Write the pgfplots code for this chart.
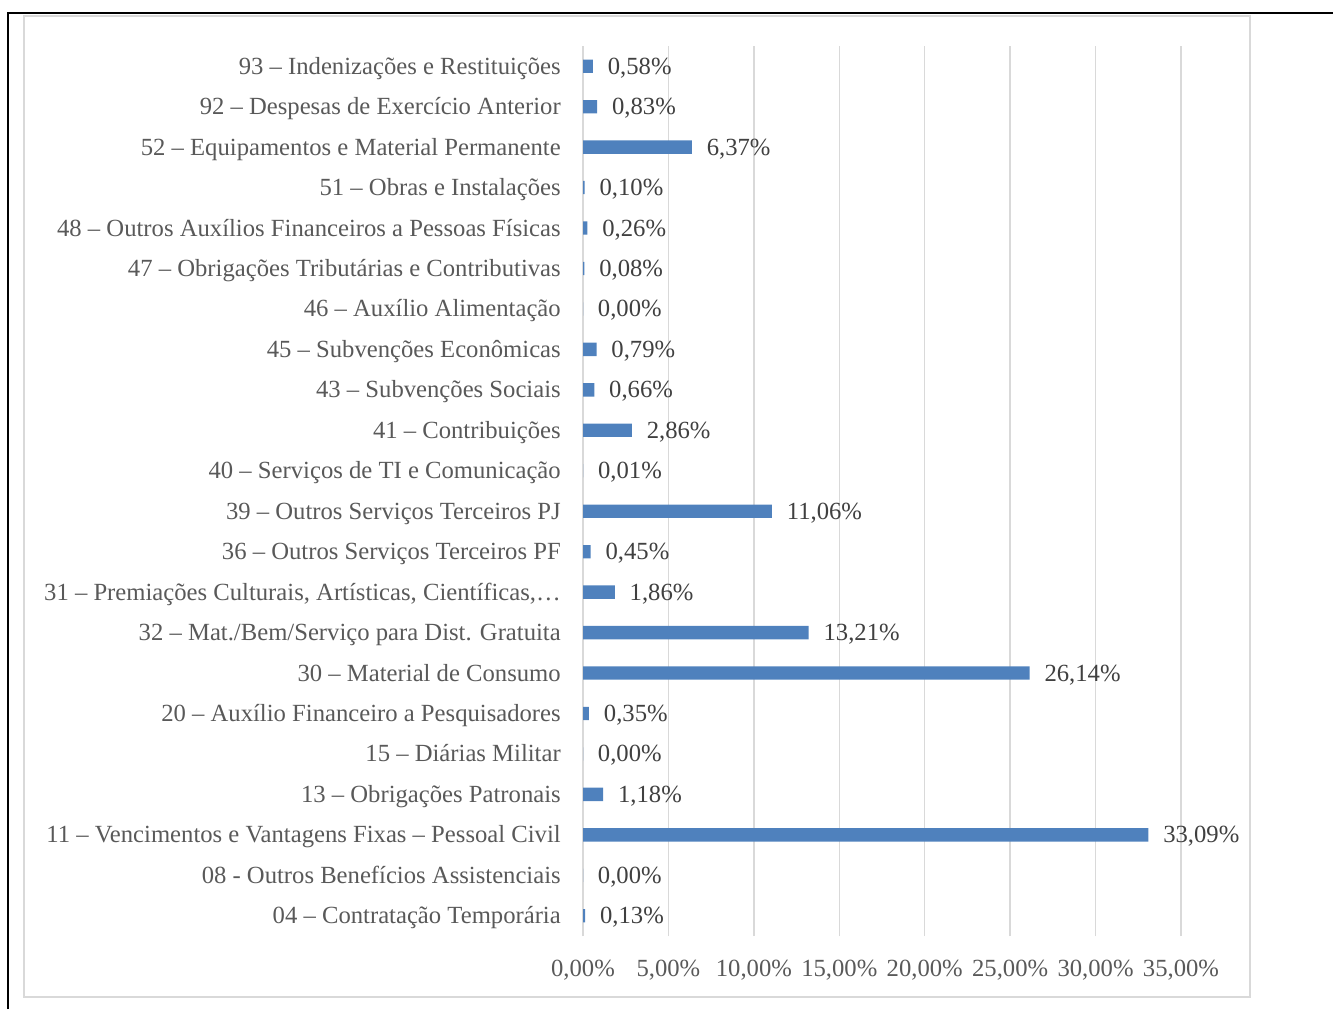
\documentclass[border=0pt]{standalone}
\usepackage{pgfplots}
\pgfplotsset{compat=1.18}
\usepackage{fontspec}
\setmainfont{Liberation Serif}
\definecolor{barblue}{HTML}{4F81BD}
\definecolor{gridgray}{HTML}{D9D9D9}
\definecolor{txtgray}{HTML}{595959}
\definecolor{lblgray}{HTML}{404040}
\begin{document}
\begin{tikzpicture}[font=\fontsize{18.5}{21}\selectfont]
\useasboundingbox (0,0) rectangle (999.75pt,756.75pt);
\draw[gridgray, line width=1.5pt] (18pt,9pt) rectangle (937.5pt,744.75pt);
\draw[black, line width=1.5pt] (6pt,0pt) -- (6pt,747pt) -- (999.75pt,747pt);
\begin{axis}[
  at={(437.25pt,54.75pt)}, anchor=south west,
  width=448.5pt, height=667.5pt, scale only axis,
  xbar, bar width=10pt,
  xmin=0, xmax=35, ymin=-0.5, ymax=21.5,
  axis line style={draw=none},
  xmajorgrids, grid style={gridgray, line width=1pt},
  xtick={0,5,10,15,20,25,30,35},
  xticklabels={{0,00\%},{5,00\%},{10,00\%},{15,00\%},{20,00\%},{25,00\%},{30,00\%},{35,00\%}},
  ytick={0,...,21},
  yticklabels={
    {04 – Contratação Temporária},
    {08 - Outros Benefícios Assistenciais},
    {11 – Vencimentos e Vantagens Fixas – Pessoal Civil},
    {13 – Obrigações Patronais},
    {15 – Diárias Militar},
    {20 – Auxílio Financeiro a Pesquisadores},
    {30 – Material de Consumo},
    {32 – Mat./Bem/Serviço para Dist. Gratuita},
    {31 – Premiações Culturais, Artísticas, Científicas,…},
    {36 – Outros Serviços Terceiros PF},
    {39 – Outros Serviços Terceiros PJ},
    {40 – Serviços de TI e Comunicação},
    {41 – Contribuições},
    {43 – Subvenções Sociais},
    {45 – Subvenções Econômicas},
    {46 – Auxílio Alimentação},
    {47 – Obrigações Tributárias e Contributivas},
    {48 – Outros Auxílios Financeiros a Pessoas Físicas},
    {51 – Obras e Instalações},
    {52 – Equipamentos e Material Permanente},
    {92 – Despesas de Exercício Anterior},
    {93 – Indenizações e Restituições}},
  major tick length=0pt,
  xticklabel style={text=txtgray, anchor=base, inner sep=0pt, yshift=-30pt},
  yticklabel style={text=txtgray, anchor=base east, inner sep=0pt, xshift=-16.5pt, yshift=-6pt},
  nodes near coords={\pgfmathprintnumber[fixed,fixed zerofill,precision=2,use comma,assume math mode=true]{\pgfplotspointmeta}\%},
  point meta=x,
  every node near coord/.append style={text=lblgray, anchor=base west, inner sep=0pt, xshift=11pt, yshift=-6pt},
  clip=false,
]
\addplot[fill=barblue, draw=none] coordinates {
  (0.13,0) (0.00,1) (33.09,2) (1.18,3) (0.00,4) (0.35,5) (26.14,6) (13.21,7)
  (1.86,8) (0.45,9) (11.06,10) (0.01,11) (2.86,12) (0.66,13) (0.79,14) (0.00,15)
  (0.08,16) (0.26,17) (0.10,18) (6.37,19) (0.83,20) (0.58,21)
};
\end{axis}
\end{tikzpicture}
\end{document}
